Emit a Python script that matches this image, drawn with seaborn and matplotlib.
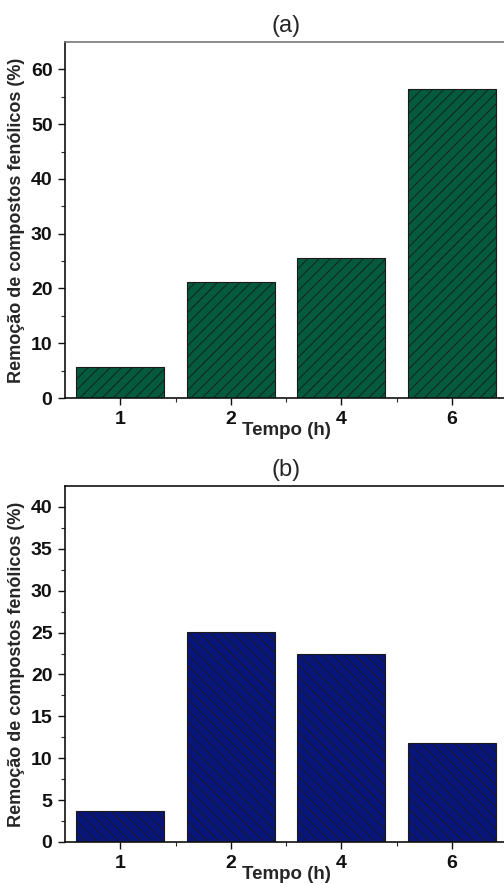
import pandas as pd
import numpy as np
import matplotlib as mpl
mpl.use("Agg")
import matplotlib.pyplot as plt
import seaborn as sns

### DATA ###
tempo = ["1", "2", "4", "6"]
remocao_a = [5.7, 21.2, 25.5, 56.5]
remocao_b = [3.7, 25.1, 22.4, 11.8]

sns.set_style("ticks")
plt.rcParams['font.family'] = ['Liberation Sans', 'DejaVu Sans']
plt.rcParams['hatch.linewidth'] = 0.6
plt.rcParams['hatch.color'] = '#111111'

fig = plt.figure(figsize=(5.04, 8.83), dpi=100)
# right edge runs a bit past the canvas, like the reference crop
ax_a = fig.add_axes([65/504, 1-398/883, 442/504, 356/883])
ax_b = fig.add_axes([65/504, 1-842/883, 442/504, 356/883])

panels = [
    (ax_a, remocao_a, '#045a3c', '///', '(a)', 65, 10, '#777777'),
    (ax_b, remocao_b, '#08157a', '\\\\\\', '(b)', 42.5, 5, '#111111'),
]

for ax, vals, color, hatch, title, ymax, step, topcol in panels:
    df = pd.DataFrame({"Tempo (h)": tempo, "Remocao": vals})
    sns.barplot(data=df, x="Tempo (h)", y="Remocao", order=tempo, color=color,
                saturation=1, width=0.8, edgecolor='#1a1a1a', linewidth=0.8,
                hatch=hatch, ax=ax)
    ax.set_xlim(-0.5, 3.5)
    ax.set_ylim(0, ymax)
    ax.set_yticks(np.arange(0, ymax, step))
    ax.set_yticks(np.arange(step/2, ymax, step), minor=True)
    ax.set_xticks([0.5, 1.5, 2.5], minor=True)
    ax.tick_params(axis='both', which='major', direction='out', length=5, width=1,
                   labelsize=14, colors='#111111', top=False, right=False, pad=4)
    ax.tick_params(axis='both', which='minor', direction='out', length=3, width=0.8,
                   top=False, right=False)
    for lab in ax.get_xticklabels() + ax.get_yticklabels():
        lab.set_fontweight('bold')
    for side in ['left', 'bottom']:
        ax.spines[side].set_color('#111111')
        ax.spines[side].set_linewidth(1.2)
    ax.spines['top'].set_color(topcol)
    ax.spines['top'].set_linewidth(1.2)
    ax.spines['right'].set_visible(False)
    ax.set_xlabel("Tempo (h)", fontsize=13.5, fontweight='bold', labelpad=-4)
    ax.set_ylabel("Remoção de compostos fenólicos (%)", fontsize=13,
                  fontweight='bold', labelpad=4)
    ax.set_title(title, fontsize=17, pad=7)

plt.savefig("out.png", dpi=100)
